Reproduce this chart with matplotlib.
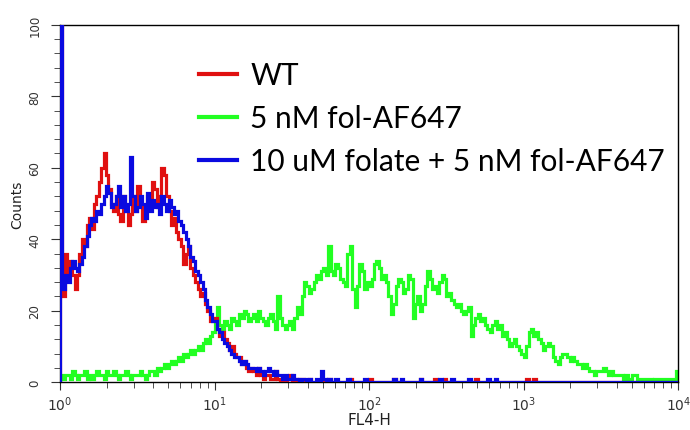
import matplotlib.pyplot as plt
import numpy as np

# FL4-H histogram, 256 channels over 4 decades (10^0 .. 10^4)
wt_counts = [110, 24, 36, 30, 34, 30, 26, 30, 36, 40, 38, 44, 46, 43, 50, 52,
             56, 60, 64, 58, 54, 50, 48, 52, 47, 45, 52, 48, 44, 47, 52, 48,
             55, 50, 45, 48, 52, 50, 56, 54, 49, 52, 60, 58, 52, 48, 44, 46,
             42, 40, 38, 33, 36, 38, 32, 30, 28, 26, 24, 25, 22, 20, 17, 18,
             18, 15, 13, 14, 12, 11, 9, 10, 8, 7, 7, 5, 6, 4, 3, 4,
             3, 2, 4, 2, 1, 2, 2, 1, 1, 3, 1, 0, 1, 0, 1, 2,
             0, 1, 0, 1, 1, 0, 0, 1, 0, 0, 0, 0, 0, 0, 0, 1,
             0, 0, 0, 0, 0, 0, 0, 0, 1, 0, 0, 0, 0, 0, 0, 0,
             1, 0, 0, 0, 0, 0, 0, 0, 0, 0, 1, 0, 0, 0, 0, 0,
             0, 0, 0, 0, 0, 1, 0, 0, 0, 0, 0, 1, 0, 0, 0, 1,
             0, 0, 0, 0, 0, 0, 0, 0, 0, 0, 0, 0, 1, 0, 0, 0,
             0, 0, 0, 0, 0, 0, 0, 0, 0, 0, 0, 0, 0, 0, 0, 0,
             0, 1, 0, 0, 1, 0, 0, 0, 0, 0, 0, 0, 0, 0, 0, 0,
             0, 0, 0, 0, 0, 0, 0, 0, 0, 0, 0, 0, 0, 0, 0, 0,
             0, 0, 0, 0, 0, 0, 0, 0, 0, 0, 0, 0, 0, 0, 0, 0,
             0, 0, 0, 0, 0, 0, 0, 0, 0, 0, 0, 0, 0, 0, 0, 0]

fol_counts = [2, 1, 2, 2, 1, 3, 2, 1, 2, 2, 3, 1, 2, 1, 2, 3,
              2, 2, 1, 3, 2, 2, 3, 2, 1, 2, 2, 3, 2, 1, 2, 2,
              2, 3, 2, 1, 2, 3, 3, 2, 4, 3, 4, 5, 4, 5, 6, 5,
              6, 7, 6, 8, 7, 8, 9, 8, 9, 10, 9, 11, 12, 11, 13, 14,
              18, 21, 16, 15, 17, 16, 15, 18, 17, 16, 19, 18, 20, 19, 17, 18,
              19, 17, 20, 18, 17, 16, 18, 19, 17, 15, 24, 18, 16, 15, 16, 17,
              15, 18, 21, 19, 24, 28, 27, 25, 26, 28, 30, 29, 31, 32, 30, 38,
              31, 30, 33, 32, 29, 28, 27, 36, 38, 26, 21, 27, 33, 31, 26, 28,
              27, 29, 33, 34, 32, 29, 30, 28, 24, 19, 22, 27, 29, 28, 25, 26,
              30, 29, 18, 22, 24, 20, 22, 27, 31, 29, 26, 27, 25, 28, 30, 29,
              24, 25, 23, 22, 21, 22, 20, 19, 20, 21, 13, 16, 18, 19, 17, 18,
              16, 15, 14, 16, 17, 15, 16, 13, 14, 12, 10, 11, 12, 10, 9, 8,
              7, 10, 14, 15, 13, 14, 12, 11, 9, 10, 11, 10, 7, 6, 5, 7,
              8, 8, 7, 6, 7, 6, 5, 5, 4, 5, 4, 3, 3, 2, 3, 3,
              3, 4, 3, 2, 3, 2, 2, 2, 2, 1, 2, 1, 1, 2, 2, 1,
              1, 1, 1, 1, 1, 0, 1, 1, 1, 1, 1, 1, 1, 1, 1, 3]

block_counts = [120, 26, 30, 28, 32, 34, 32, 31, 33, 35, 38, 41, 44, 46, 45, 48,
                47, 50, 52, 55, 53, 49, 50, 52, 55, 49, 52, 48, 50, 63, 52, 48,
                49, 52, 50, 46, 53, 48, 51, 49, 50, 47, 52, 50, 48, 51, 49, 47,
                48, 45, 44, 42, 40, 38, 35, 34, 31, 30, 28, 26, 23, 21, 19, 17,
                17, 15, 14, 12, 11, 10, 9, 8, 7, 7, 6, 5, 6, 5, 4, 4,
                4, 3, 4, 3, 2, 3, 4, 3, 2, 3, 2, 2, 1, 2, 1, 1,
                2, 1, 1, 0, 1, 1, 0, 1, 0, 0, 1, 0, 3, 1, 0, 1,
                0, 0, 1, 0, 0, 0, 0, 1, 0, 0, 0, 0, 0, 0, 1, 0,
                0, 0, 0, 0, 0, 0, 0, 0, 0, 0, 1, 0, 0, 1, 0, 0,
                0, 0, 0, 0, 0, 1, 0, 0, 0, 0, 0, 0, 0, 1, 0, 0,
                0, 0, 1, 0, 0, 0, 0, 0, 0, 1, 0, 0, 0, 0, 0, 0,
                0, 1, 0, 0, 1, 0, 0, 0, 0, 0, 0, 0, 0, 0, 0, 0,
                0, 0, 0, 0, 0, 0, 0, 0, 0, 0, 0, 0, 0, 0, 0, 0,
                0, 0, 0, 0, 0, 0, 0, 0, 0, 0, 0, 0, 0, 0, 0, 0,
                0, 0, 0, 0, 0, 0, 0, 0, 0, 0, 0, 0, 0, 0, 0, 0,
                0, 0, 0, 0, 0, 0, 0, 0, 0, 0, 0, 0, 0, 0, 0, 0]

labels = ['WT', '5 nM fol-AF647', '10 uM folate + 5 nM fol-AF647']

n_chan = len(wt_counts)
edges = 10 ** (np.arange(n_chan + 1) * 4 / n_chan)

fig = plt.figure(figsize=(6.9, 4.31), dpi=100)
ax = fig.add_axes([0.087, 0.111, 0.896, 0.829])

ax.stairs(fol_counts, edges, color='#22ff22', linewidth=2.3, label=labels[1], zorder=2)
ax.stairs(wt_counts, edges, color='#e01010', linewidth=2.3, label=labels[0], zorder=3)
ax.stairs(block_counts, edges, color='#0a0ae0', linewidth=2.3, label=labels[2], zorder=4)

ax.set_xscale('log')
ax.set_xlim(1, 1e4)
ax.set_ylim(0, 100)
ax.set_yticks(np.arange(0, 101, 20))
ax.set_yticks(np.arange(0, 101, 4), minor=True)
ax.tick_params(axis='y', which='major', length=6.5, pad=7, labelsize=8.5, rotation=90, colors='#333333')
ax.tick_params(axis='y', which='minor', length=4.3, color='#333333')
ax.tick_params(axis='x', which='major', length=6, pad=3, labelsize=10, colors='#333333')
ax.tick_params(axis='x', which='minor', length=4, color='#333333')
for lab in ax.get_yticklabels():
    lab.set_va('center')
    lab.set_family('DejaVu Sans')
for lab in ax.get_xticklabels():
    lab.set_family('Liberation Sans Narrow')
for sp in ax.spines.values():
    sp.set_linewidth(1.0)

ax.set_ylabel('Counts', fontsize=10, family='DejaVu Sans', labelpad=3, color='#222222')
ax.set_xlabel('FL4-H', fontsize=11, family='Liberation Sans Narrow', labelpad=-1, color='#222222')

h, l = ax.get_legend_handles_labels()
order = [1, 0, 2]
leg = ax.legend([h[i] for i in order], [l[i] for i in order], loc='upper left',
                bbox_to_anchor=(0.182, 0.973), frameon=False, handlelength=1.25,
                handletextpad=0.45, labelspacing=0.5,
                prop={'family': 'Lato', 'size': 21.5})
for line in leg.get_lines():
    line.set_linewidth(3)

fig.savefig('out.png', dpi=100)
